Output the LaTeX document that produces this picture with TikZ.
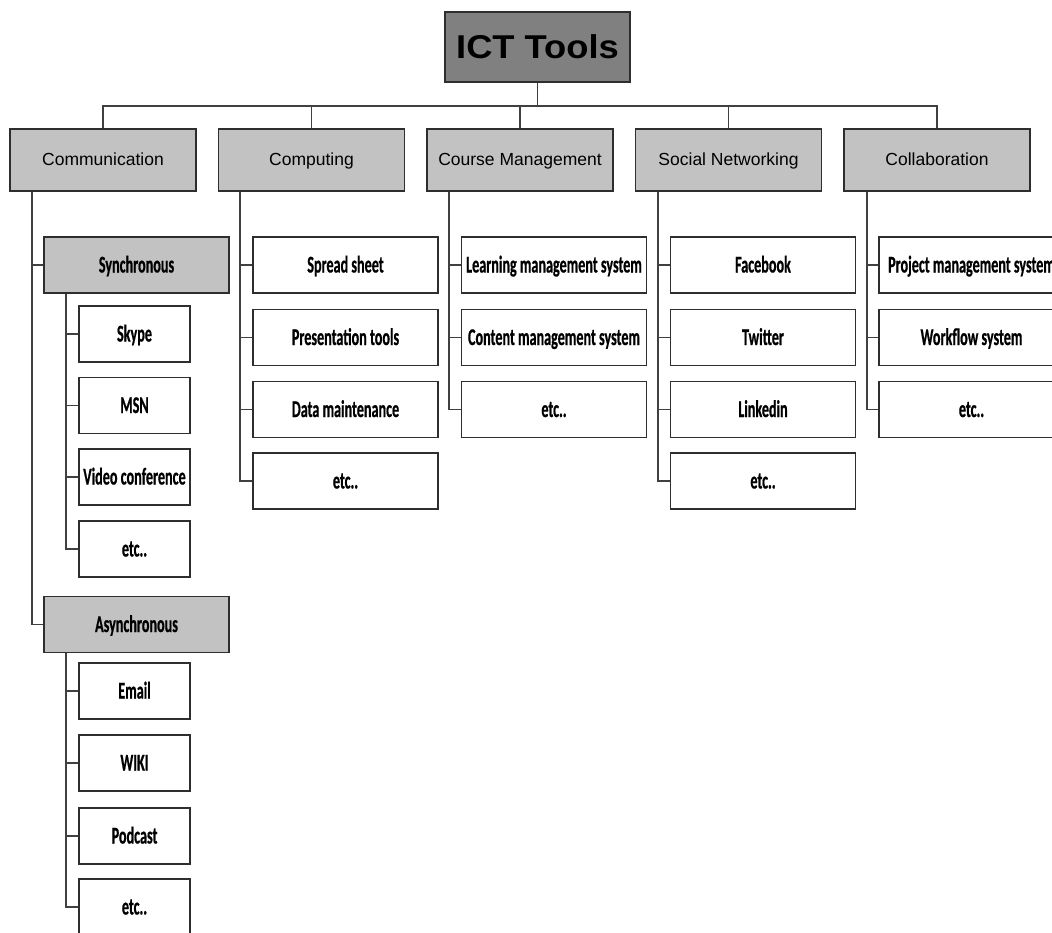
\documentclass[tikz,border=0pt]{standalone}
\usepackage{fontspec}
\setmainfont{Liberation Sans}
\newfontfamily\childfont{Carlito}[FakeStretch=0.59, FakeBold=0.6]
\newfontfamily\headfont{Liberation Sans}[FakeStretch=1.1]

\tikzset{
  box/.style={draw=black!82, line width=1.7pt, minimum width=185pt, inner sep=0pt, align=center},
  rootbox/.style={box, fill=black!50, minimum height=70pt, font=\headfont\bfseries\fontsize{33}{36}\selectfont},
  catbox/.style={box, fill=black!24, minimum width=186pt, minimum height=62pt,
    text height=12.5pt, text depth=2.5pt, font=\fontsize{17.5}{20}\selectfont},
  childtext/.style={text height=15.5pt, text depth=0.5pt, font=\childfont\bfseries\fontsize{24}{26}\selectfont},
  subbox/.style={box, childtext, fill=black!24, minimum height=56pt},
  leafbox/.style={box, childtext, fill=white, minimum height=56pt},
  smallleaf/.style={leafbox, minimum width=111pt},
  link/.style={draw=black!75, line width=1.4pt},
}

\begin{document}
\begin{tikzpicture}[x=1pt, y=-1pt]
\useasboundingbox (0,0) rectangle (1052,932);
\clip (0,0) rectangle (1052,932);
\fill[white] (0,0) rectangle (1052,932);

% root and categories
\node[rootbox] (root) at (537.5,47) {ICT Tools};
\node[catbox] (comm)   at (103,160)   {Communication};
\node[catbox] (comp)   at (311.5,160) {Computing};
\node[catbox] (course) at (520,160)   {Course Management};
\node[catbox] (social) at (728.5,160) {Social Networking};
\node[catbox] (collab) at (937,160)   {Collaboration};

% communication branch
\node[subbox] (sync)  at (136.5,265)   {Synchronous};
\node[smallleaf] (skype) at (134.5,334)   {Skype};
\node[smallleaf] (msn)   at (134.5,405.5) {MSN};
\node[smallleaf] (video) at (134.5,477)   {Video conference};
\node[smallleaf] (setc)  at (134.5,549)   {etc..};
\node[subbox] (async) at (136.5,624.5) {Asynchronous};
\node[smallleaf] (email) at (134.5,691)   {Email};
\node[smallleaf] (wiki)  at (134.5,763)   {WIKI};
\node[smallleaf] (pod)   at (134.5,836)   {Podcast};
\node[smallleaf] (aetc)  at (134.5,907)   {etc..};

% computing branch
\node[leafbox] (spread) at (345.5,265)   {Spread sheet};
\node[leafbox] (pres)   at (345.5,337.5) {Presentation tools};
\node[leafbox] (data)   at (345.5,409.5) {Data maintenance};
\node[leafbox] (cetc)   at (345.5,481)   {etc..};

% course management branch
\node[leafbox] (lms)  at (554,265)   {Learning management system};
\node[leafbox] (cms)  at (554,337.5) {Content management system};
\node[leafbox] (metc) at (554,409.5) {etc..};

% social networking branch
\node[leafbox] (fb)   at (763,265)   {Facebook};
\node[leafbox] (tw)   at (763,337.5) {Twitter};
\node[leafbox] (li)   at (763,409.5) {Linkedin};
\node[leafbox] (netc) at (763,481)   {etc..};

% collaboration branch
\node[leafbox] (pms)  at (971.5,265)   {Project management system};
\node[leafbox] (wf)   at (971.5,337.5) {Workflow system};
\node[leafbox] (letc) at (971.5,409.5) {etc..};

% root to categories
\coordinate (bar) at (537.5,106);
\foreach \c in {comm,comp,course,social,collab}
  \draw[link] (root.south) -- (bar) -| (\c.north);

% vertical trunks under each box
\coordinate (tcomm)   at ([xshift=23pt]comm.south west);
\coordinate (tcomp)   at ([xshift=22.5pt]comp.south west);
\coordinate (tcourse) at ([xshift=23pt]course.south west);
\coordinate (tsocial) at ([xshift=23.5pt]social.south west);
\coordinate (tcollab) at ([xshift=24pt]collab.south west);
\coordinate (tsync)   at ([xshift=23pt]sync.south west);
\coordinate (tasync)  at ([xshift=23pt]async.south west);

\foreach \c in {sync,async}
  \draw[link] (tcomm) |- (\c.west);
\foreach \c in {skype,msn,video,setc}
  \draw[link] (tsync) |- (\c.west);
\foreach \c in {email,wiki,pod,aetc}
  \draw[link] (tasync) |- (\c.west);
\foreach \c in {spread,pres,data,cetc}
  \draw[link] (tcomp) |- (\c.west);
\foreach \c in {lms,cms,metc}
  \draw[link] (tcourse) |- (\c.west);
\foreach \c in {fb,tw,li,netc}
  \draw[link] (tsocial) |- (\c.west);
\foreach \c in {pms,wf,letc}
  \draw[link] (tcollab) |- (\c.west);
\end{tikzpicture}
\end{document}
